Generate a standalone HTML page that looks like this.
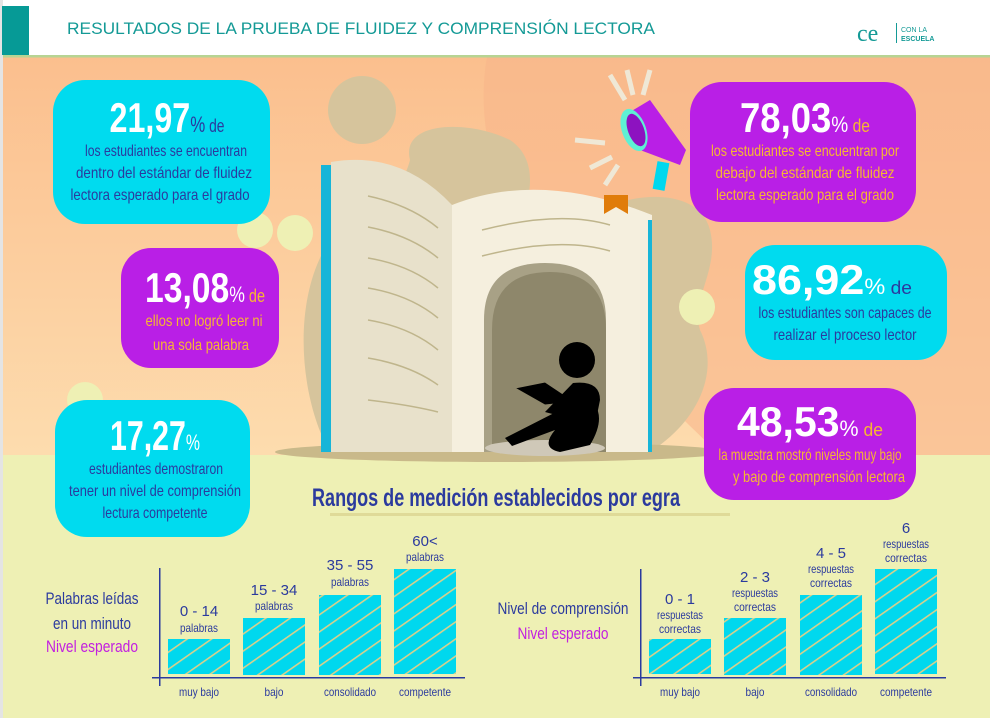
<!DOCTYPE html>
<html><head><meta charset="utf-8"><style>
html,body{margin:0;padding:0;background:#fff}
svg{display:block}
text{font-family:"Liberation Sans Narrow","Liberation Sans",sans-serif}
.b{fill:#2b3a9e}
.big{fill:#fff;font-weight:bold;font-size:42px}
.t{font-size:16px}
.o{fill:#f7b731}
</style></head><body>
<svg width="990" height="718" viewBox="0 0 990 718" xmlns="http://www.w3.org/2000/svg">
<defs>
<linearGradient id="bg" x1="0" y1="0" x2="0" y2="1">
<stop offset="0" stop-color="#fbbf8e"/><stop offset="1" stop-color="#fddcae"/></linearGradient>
<pattern id="h" width="14" height="14" patternUnits="userSpaceOnUse" patternTransform="rotate(-35)">
<rect width="14" height="14" fill="#00d8ee"/><rect y="0" width="14" height="1.6" fill="#d9d08c"/></pattern>
</defs>
<rect width="990" height="718" fill="#eef0b4"/>
<rect x="0" y="57" width="990" height="398" fill="url(#bg)"/>
<path d="M487 57 C470 150 520 250 560 300 L720 455 L990 455 L990 57Z" fill="#f8b68b" opacity="0.6"/>
<rect x="0" y="0" width="3" height="718" fill="#e4e4e4"/>
<rect x="3" y="0" width="987" height="55" fill="#fff"/>
<rect x="3" y="55" width="987" height="2.5" fill="#b7d493"/>
<rect x="2" y="6" width="27" height="49" fill="#069a96"/>
<text x="67" y="34" font-size="17" fill="#149a96" textLength="588" lengthAdjust="spacingAndGlyphs" style="font-family:'Liberation Sans'">RESULTADOS DE LA PRUEBA DE FLUIDEZ Y COMPRENSIÓN LECTORA</text>
<text x="857" y="41" font-size="24" fill="#149a96" style="font-family:'Liberation Serif'">ce</text>
<rect x="896" y="23" width="1" height="20" fill="#149a96"/>
<text x="901" y="32" font-size="7" fill="#149a96">CON LA</text>
<text x="901" y="41" font-size="7" font-weight="bold" fill="#149a96">ESCUELA</text>
<!-- blobs -->
<circle cx="362" cy="110" r="34" fill="#d6c49c"/>
<path d="M410 160 C400 120 470 120 510 140 C540 160 530 200 520 220 L600 210 C640 190 700 190 710 230 C720 270 690 300 700 330 C720 370 700 420 650 452 L330 452 C300 400 290 300 330 240 C360 220 400 200 410 160Z" fill="#d6c49c"/>
<circle cx="295" cy="233" r="18" fill="#eef0b4"/>
<circle cx="697" cy="307" r="18" fill="#eef0b4"/>
<circle cx="255" cy="230" r="18" fill="#eef0b4"/>
<circle cx="85" cy="400" r="18" fill="#eef0b4"/>
<ellipse cx="500" cy="452" rx="225" ry="10" fill="#c9b98a"/>
<!-- book -->
<rect x="321" y="165" width="10" height="287" fill="#17b5d8"/>
<path d="M331 162 Q400 150 452 205 L452 452 L331 452Z" fill="#e8e1cb"/>
<path d="M452 205 Q540 170 652 215 L652 452 L452 452Z" fill="#f5efde"/>
<rect x="648" y="220" width="4" height="232" fill="#17b5d8"/>
<g stroke="#bfb58c" stroke-width="1.5" fill="none">
<path d="M368 196 Q410 205 438 228"/><path d="M368 227 Q410 235 438 258"/><path d="M368 258 Q410 265 438 288"/><path d="M368 288 Q410 295 438 318"/><path d="M368 320 Q410 327 438 350"/><path d="M368 358 Q410 365 438 385"/><path d="M368 400 Q410 405 438 412"/>
<path d="M482 230 Q560 210 610 225"/><path d="M482 256 Q560 236 610 251"/></g>
<path d="M604 195 L628 195 L628 214 L616 207 L604 214Z" fill="#e07c0a"/>
<path d="M484 452 L484 320 Q484 263 545 263 Q606 263 606 320 L606 452Z" fill="#a8a186"/>
<path d="M492 452 L492 330 Q492 272 550 272 Q606 272 606 330 L606 452Z" fill="#8e876b"/>
<ellipse cx="545" cy="448" rx="60" ry="8" fill="#cfc8b8"/>
<circle cx="577" cy="360" r="18" fill="#000"/>
<path d="M505 438 L560 410 Q580 400 595 405 Q605 420 590 445 L560 452 Q540 448 555 430 L512 446Z" fill="#000"/>
<path d="M515 388 L545 382 L575 402 L545 405Z" fill="#000" stroke="#8e876b"/>
<path d="M573 383 Q600 380 600 400 L595 425 Q585 430 575 420 L545 412Z" fill="#000"/>
<!-- megaphone -->
<path d="M625 115 L650 100 L686 150 L680 165 L640 150Z" fill="#b91fe6"/>
<ellipse cx="634" cy="130" rx="12" ry="22" fill="#5ef0d4" transform="rotate(-20 634 130)"/>
<ellipse cx="636" cy="130" rx="8" ry="17" fill="#8d12c0" transform="rotate(-20 636 130)"/>
<rect x="655" y="162" width="12" height="28" fill="#00d8ee" transform="rotate(10 661 176)"/>
<g stroke="#efe8d6" stroke-width="5"><path d="M610 75 L625 100"/><path d="M627 70 L633 95"/><path d="M650 70 L643 95"/><path d="M575 140 L605 143"/><path d="M590 168 L612 157"/><path d="M605 185 L618 165"/></g>
<!-- cards -->
<rect x="53" y="80" width="217" height="144" rx="32" fill="#00dbef"/>
<text x="167" y="132" text-anchor="middle" textLength="115" lengthAdjust="spacingAndGlyphs"><tspan class="big">21,97</tspan><tspan class="b" font-size="22">%</tspan><tspan class="b" font-size="18"> de</tspan></text>
<text x="166" y="156" text-anchor="middle" class="b t" textLength="162" lengthAdjust="spacingAndGlyphs">los estudiantes se encuentran</text>
<text x="164" y="178" text-anchor="middle" class="b t" textLength="176" lengthAdjust="spacingAndGlyphs">dentro del estándar de fluidez</text>
<text x="160" y="200" text-anchor="middle" class="b t" textLength="179" lengthAdjust="spacingAndGlyphs">lectora esperado para el grado</text>

<rect x="121" y="248" width="158" height="120" rx="30" fill="#b91fe6"/>
<text x="205" y="302" text-anchor="middle" textLength="120" lengthAdjust="spacingAndGlyphs"><tspan class="big">13,08</tspan><tspan fill="#fff" font-size="22">%</tspan><tspan class="o" font-size="18"> de</tspan></text>
<text x="204" y="326" text-anchor="middle" class="o t" textLength="117" lengthAdjust="spacingAndGlyphs">ellos no logró leer ni</text>
<text x="201" y="350" text-anchor="middle" class="o t" textLength="96" lengthAdjust="spacingAndGlyphs">una sola palabra</text>

<rect x="55" y="400" width="195" height="137" rx="32" fill="#00dbef"/>
<text x="155" y="450" text-anchor="middle" textLength="90" lengthAdjust="spacingAndGlyphs"><tspan class="big">17,27</tspan><tspan fill="#fff" font-size="22">%</tspan></text>
<text x="156" y="474" text-anchor="middle" class="b t" textLength="134" lengthAdjust="spacingAndGlyphs">estudiantes demostraron</text>
<text x="155" y="496" text-anchor="middle" class="b t" textLength="172" lengthAdjust="spacingAndGlyphs">tener un nivel de comprensión</text>
<text x="155" y="518" text-anchor="middle" class="b t" textLength="105" lengthAdjust="spacingAndGlyphs">lectura competente</text>

<rect x="690" y="82" width="226" height="140" rx="32" fill="#b91fe6"/>
<text x="805" y="132" text-anchor="middle" textLength="130" lengthAdjust="spacingAndGlyphs"><tspan class="big">78,03</tspan><tspan fill="#fff" font-size="22">%</tspan><tspan class="o" font-size="18"> de</tspan></text>
<text x="805" y="156" text-anchor="middle" class="o t" textLength="188" lengthAdjust="spacingAndGlyphs">los estudiantes se encuentran por</text>
<text x="805" y="178" text-anchor="middle" class="o t" textLength="179" lengthAdjust="spacingAndGlyphs">debajo del estándar de fluidez</text>
<text x="805" y="200" text-anchor="middle" class="o t" textLength="178" lengthAdjust="spacingAndGlyphs">lectora esperado para el grado</text>

<rect x="745" y="245" width="202" height="115" rx="30" fill="#00dbef"/>
<text x="832" y="294" text-anchor="middle" textLength="160" lengthAdjust="spacingAndGlyphs"><tspan class="big">86,92</tspan><tspan fill="#fff" font-size="22">%</tspan><tspan class="b" font-size="18"> de</tspan></text>
<text x="845" y="318" text-anchor="middle" class="b t" textLength="173" lengthAdjust="spacingAndGlyphs">los estudiantes son capaces de</text>
<text x="845" y="340" text-anchor="middle" class="b t" textLength="143" lengthAdjust="spacingAndGlyphs">realizar el proceso lector</text>

<rect x="704" y="388" width="212" height="112" rx="30" fill="#b91fe6"/>
<text x="810" y="436" text-anchor="middle" textLength="146" lengthAdjust="spacingAndGlyphs"><tspan class="big">48,53</tspan><tspan fill="#fff" font-size="22">%</tspan><tspan class="o" font-size="18"> de</tspan></text>
<text x="810" y="460" text-anchor="middle" class="o t" textLength="183" lengthAdjust="spacingAndGlyphs">la muestra mostró niveles muy bajo</text>
<text x="819" y="482" text-anchor="middle" class="o t" textLength="172" lengthAdjust="spacingAndGlyphs">y bajo de comprensión lectora</text>

<text x="496" y="506" text-anchor="middle" font-size="25" font-weight="bold" class="b" textLength="368" lengthAdjust="spacingAndGlyphs">Rangos de medición establecidos por egra</text>
<rect x="330" y="513" width="400" height="3" fill="#d9d08c" opacity="0.7"/>

<!-- left chart -->
<g class="b" text-anchor="middle" lengthAdjust="spacingAndGlyphs">
<text x="92" y="604" font-size="17" textLength="93" lengthAdjust="spacingAndGlyphs">Palabras leídas</text>
<text x="92" y="629" font-size="17" textLength="78" lengthAdjust="spacingAndGlyphs">en un minuto</text>
<text x="92" y="652" font-size="17" fill="#c21fe0" textLength="92" lengthAdjust="spacingAndGlyphs">Nivel esperado</text>
</g>
<rect x="159" y="568" width="1.5" height="118" fill="#2b3a9e"/>
<rect x="152" y="677" width="313" height="1.5" fill="#2b3a9e"/>
<rect x="168" y="639" width="62" height="35" fill="url(#h)"/>
<rect x="243" y="618" width="62" height="57" fill="url(#h)"/>
<rect x="319" y="595" width="62" height="80" fill="url(#h)"/>
<rect x="394" y="569" width="62" height="105" fill="url(#h)"/>
<g class="b" text-anchor="middle" font-size="12">
<text x="199" y="616" font-size="15">0 - 14</text><text x="199" y="632" textLength="38" lengthAdjust="spacingAndGlyphs">palabras</text>
<text x="274" y="595" font-size="15">15 - 34</text><text x="274" y="610" textLength="38" lengthAdjust="spacingAndGlyphs">palabras</text>
<text x="350" y="570" font-size="15">35 - 55</text><text x="350" y="586" textLength="38" lengthAdjust="spacingAndGlyphs">palabras</text>
<text x="425" y="546" font-size="15">60&lt;</text><text x="425" y="561" textLength="38" lengthAdjust="spacingAndGlyphs">palabras</text>
<text x="199" y="696" textLength="40" lengthAdjust="spacingAndGlyphs">muy bajo</text><text x="274" y="696" textLength="19" lengthAdjust="spacingAndGlyphs">bajo</text><text x="350" y="696" textLength="52" lengthAdjust="spacingAndGlyphs">consolidado</text><text x="425" y="696" textLength="52" lengthAdjust="spacingAndGlyphs">competente</text>
</g>
<!-- right chart -->
<g class="b" text-anchor="middle">
<text x="563" y="614" font-size="17" textLength="131" lengthAdjust="spacingAndGlyphs">Nivel de comprensión</text>
<text x="563" y="639" font-size="17" fill="#c21fe0" textLength="91" lengthAdjust="spacingAndGlyphs">Nivel esperado</text>
</g>
<rect x="640" y="569" width="1.5" height="117" fill="#2b3a9e"/>
<rect x="633" y="677" width="313" height="1.5" fill="#2b3a9e"/>
<rect x="649" y="639" width="62" height="35" fill="url(#h)"/>
<rect x="724" y="618" width="62" height="57" fill="url(#h)"/>
<rect x="800" y="595" width="62" height="80" fill="url(#h)"/>
<rect x="875" y="569" width="62" height="105" fill="url(#h)"/>
<g class="b" text-anchor="middle" font-size="12">
<text x="680" y="604" font-size="15">0 - 1</text><text x="680" y="619" textLength="46" lengthAdjust="spacingAndGlyphs">respuestas</text><text x="680" y="633" textLength="42" lengthAdjust="spacingAndGlyphs">correctas</text>
<text x="755" y="582" font-size="15">2 - 3</text><text x="755" y="597" textLength="46" lengthAdjust="spacingAndGlyphs">respuestas</text><text x="755" y="611" textLength="42" lengthAdjust="spacingAndGlyphs">correctas</text>
<text x="831" y="558" font-size="15">4 - 5</text><text x="831" y="573" textLength="46" lengthAdjust="spacingAndGlyphs">respuestas</text><text x="831" y="587" textLength="42" lengthAdjust="spacingAndGlyphs">correctas</text>
<text x="906" y="533" font-size="15">6</text><text x="906" y="548" textLength="46" lengthAdjust="spacingAndGlyphs">respuestas</text><text x="906" y="562" textLength="42" lengthAdjust="spacingAndGlyphs">correctas</text>
<text x="680" y="696" textLength="40" lengthAdjust="spacingAndGlyphs">muy bajo</text><text x="755" y="696" textLength="19" lengthAdjust="spacingAndGlyphs">bajo</text><text x="831" y="696" textLength="52" lengthAdjust="spacingAndGlyphs">consolidado</text><text x="906" y="696" textLength="52" lengthAdjust="spacingAndGlyphs">competente</text>
</g>
</svg>
</body></html>
